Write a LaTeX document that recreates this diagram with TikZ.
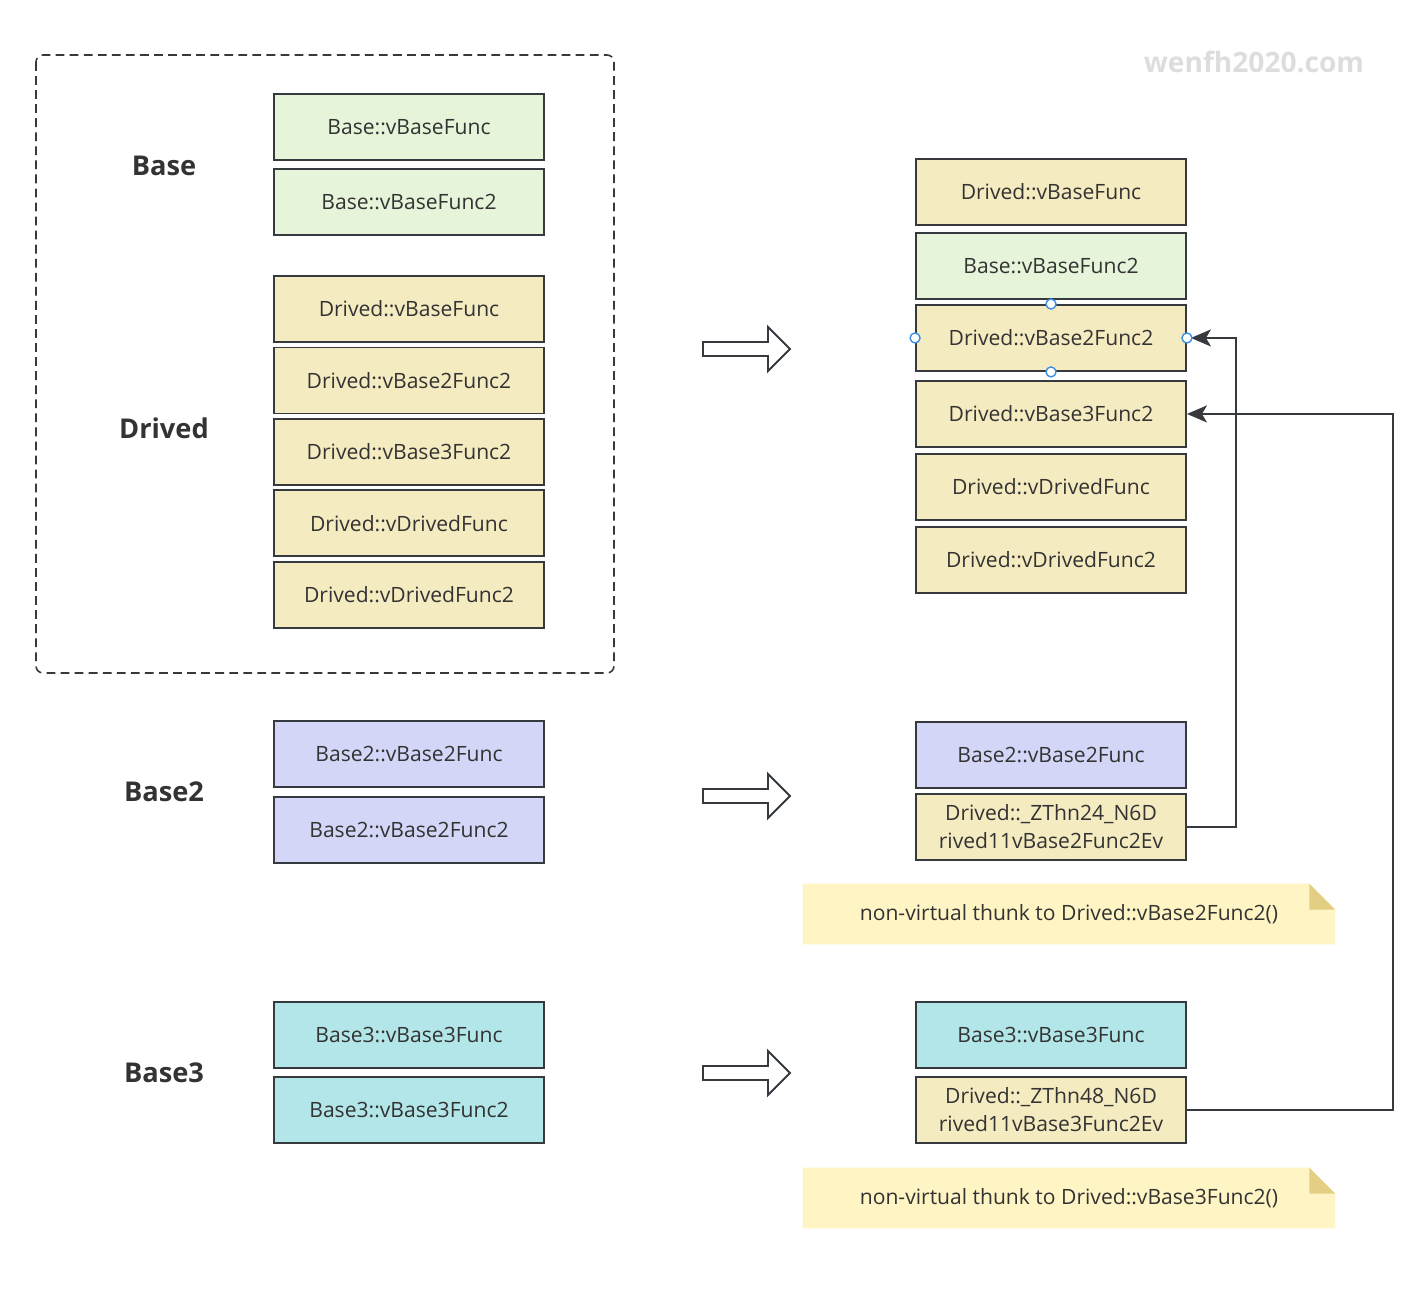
\documentclass[tikz,border=0pt]{standalone}
\usepackage{fontspec}
\setmainfont{Open Sans}
\usepackage{tikz}
\usetikzlibrary{arrows.meta, positioning, backgrounds}
\usepackage{xcolor}
\definecolor{linegray}{HTML}{36393D}
\definecolor{textgray}{HTML}{333333}
\definecolor{basefill}{HTML}{E6F5DA}
\definecolor{drivedfill}{HTML}{F5EBC0}
\definecolor{bsecfill}{HTML}{D3D6F7}
\definecolor{bthirdfill}{HTML}{B3E6E8}
\definecolor{notefill}{HTML}{FFF4C3}
\definecolor{foldfill}{HTML}{E3CF84}
\definecolor{handleblue}{HTML}{3D8FE6}
\definecolor{markgray}{HTML}{DDDDDD}

\begin{document}
\begin{tikzpicture}[x=0.02cm,y=-0.02cm,on grid,node distance=1.45cm]
    \tikzstyle{slot}=[draw=linegray,line width=1.1pt,minimum width=5.4cm,minimum height=1.32cm,inner sep=0pt,text=textgray,align=center,font=\fontsize{12}{15}\selectfont]
    \tikzstyle{basefunc}=[slot,fill=basefill]
    \tikzstyle{drivedfunc}=[slot,fill=drivedfill]
    \tikzstyle{bsecfunc}=[slot,fill=bsecfill]
    \tikzstyle{bthirdfunc}=[slot,fill=bthirdfill]
    \tikzstyle{classname}=[text=textgray,font=\bfseries\fontsize{15.5}{18}\selectfont]
    \tikzstyle{note}=[minimum width=10.64cm,minimum height=1.2cm,inner sep=0pt,text=textgray,font=\fontsize{12}{15}\selectfont]
    \tikzstyle{hollowarrow}=[draw=linegray,line width=1.1pt,fill=white]
    \tikzstyle{link}=[draw=linegray,line width=1.1pt,-{Stealth[length=4mm,width=3.4mm,inset=1mm]}]
    \tikzstyle{handle}=[draw=handleblue,fill=white,line width=0.8pt]

    \useasboundingbox (0,0) rectangle (1427,1293);
    \draw[linegray,line width=0.9pt,dashed,dash pattern=on 5pt off 3pt,rounded corners=4pt] (36,55) rectangle (614,673);
    \node[text=markgray,font=\bfseries\fontsize{16}{19}\selectfont] (mark) at (1254,62) {wenfh2020.com};

    % left: class layouts
    \node[classname] (lBase) at (164,166) {Base};
    \node[classname] (lDrived) at (164,428) {Drived};
    \node[classname] (lBase2) at (164,792) {Base2};
    \node[classname] (lBase3) at (164,1073) {Base3};

    \node[basefunc] (lBF) at (409,127) {Base::vBaseFunc};
    \node[basefunc, below of=lBF, node distance=1.5cm] (lBF2) {Base::vBaseFunc2};

    \node[drivedfunc] (lDBF) at (409,309) {Drived::vBaseFunc};
    \node[drivedfunc, below of=lDBF, node distance=1.43cm] (lDB2F2) {Drived::vBase2Func2};
    \node[drivedfunc, below of=lDB2F2, node distance=1.43cm] (lDB3F2) {Drived::vBase3Func2};
    \node[drivedfunc, below of=lDB3F2, node distance=1.43cm] (lDDF) {Drived::vDrivedFunc};
    \node[drivedfunc, below of=lDDF, node distance=1.43cm] (lDDF2) {Drived::vDrivedFunc2};

    \node[bsecfunc] (lB2F) at (409,754) {Base2::vBase2Func};
    \node[bsecfunc, below of=lB2F, node distance=1.52cm] (lB2F2) {Base2::vBase2Func2};

    \node[bthirdfunc] (lB3F) at (409,1035) {Base3::vBase3Func};
    \node[bthirdfunc, below of=lB3F, node distance=1.5cm] (lB3F2) {Base3::vBase3Func2};

    % middle: hollow arrows
    \foreach \y in {349,796,1073}
        \draw[hollowarrow] (703,\y-7) -- (768,\y-7) -- (768,\y-22) -- (790,\y) -- (768,\y+22) -- (768,\y+7) -- (703,\y+7) -- cycle;

    % right: vtables
    \node[drivedfunc] (rDBF) at (1051,192) {Drived::vBaseFunc};
    \node[basefunc, below of=rDBF, node distance=1.48cm] (rBF2) {Base::vBaseFunc2};
    \node[drivedfunc, below of=rBF2, node distance=1.44cm] (rDB2F2) {Drived::vBase2Func2};
    \node[drivedfunc, below of=rDB2F2, node distance=1.52cm] (rDB3F2) {Drived::vBase3Func2};
    \node[drivedfunc, below of=rDB3F2, node distance=1.46cm] (rDDF) {Drived::vDrivedFunc};
    \node[drivedfunc, below of=rDDF, node distance=1.46cm] (rDDF2) {Drived::vDrivedFunc2};

    \node[bsecfunc] (rB2F) at (1051,755) {Base2::vBase2Func};
    \node[drivedfunc, below of=rB2F, node distance=1.44cm, font=\fontsize{12}{16}\selectfont] (rThunkA) {Drived::\_ZThn24\_N6D\\rived11vBase2Func2Ev};

    \node[bthirdfunc] (rB3F) at (1051,1035) {Base3::vBase3Func};
    \node[drivedfunc, below of=rB3F, node distance=1.5cm, font=\fontsize{12}{16}\selectfont] (rThunkB) {Drived::\_ZThn48\_N6D\\rived11vBase3Func2Ev};

    % notes
    \node[note] (noteA) at (1069,914) {non-virtual thunk to Drived::vBase2Func2()};
    \node[note] (noteB) at (1069,1198) {non-virtual thunk to Drived::vBase3Func2()};
    \begin{scope}[on background layer]
        \foreach \n in {noteA,noteB} {
            \fill[notefill] (\n.south west) -- (\n.north west) -- ([xshift=-0.52cm]\n.north east)
                -- ([yshift=-0.52cm]\n.north east) -- (\n.south east) -- cycle;
            \fill[foldfill] ([xshift=-0.52cm]\n.north east) -- ([yshift=-0.52cm]\n.north east)
                -- ([xshift=-0.52cm,yshift=-0.52cm]\n.north east) -- cycle;
        }
    \end{scope}

    % thunk links
    \draw[link, shorten >=0.08cm] (rThunkA.east) -- ++(49,0) |- (rDB2F2.east);
    \draw[link] (rThunkB.east) -- ++(206,0) |- (rDB3F2.east);

    \foreach \a in {north,south,east,west}
        \draw[handle] (rDB2F2.\a) circle (5);
\end{tikzpicture}
\end{document}
